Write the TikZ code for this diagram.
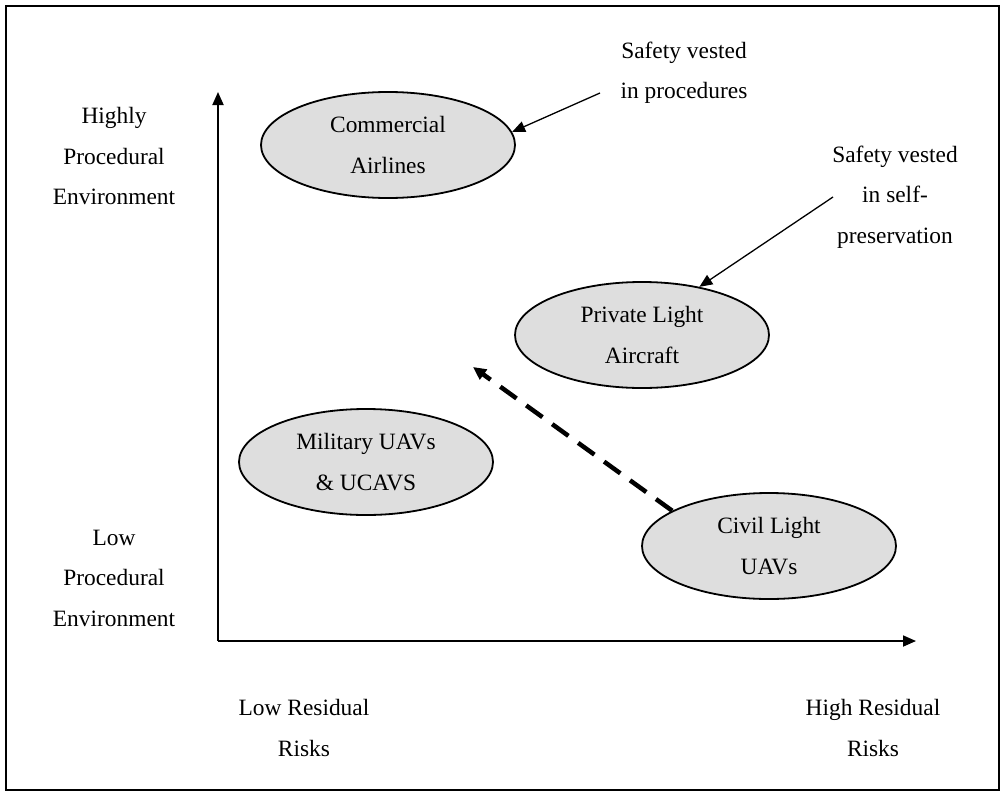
\documentclass[tikz,border=0pt]{standalone}
\usepackage{fontspec}
\setmainfont{Liberation Serif}
\usetikzlibrary{shapes.geometric,arrows.meta}
\begin{document}
\begin{tikzpicture}[x=1pt,y=-1pt,
  every node/.style={font=\fontsize{23.4}{40.5}\selectfont},
  label text/.style={align=center,inner sep=0pt},
  group/.style={ellipse,draw,line width=1.8pt,fill=black!13,
    minimum width=254pt,minimum height=106pt,inner sep=0pt,align=center},
  axis/.style={line width=1.8pt,-{Triangle[length=13pt,width=11pt]}},
  pointer/.style={line width=1.3pt,-{Triangle[length=13pt,width=11pt]}},
  trend/.style={line width=4.5pt,dash pattern=on 20pt off 12pt,
    -{Triangle[length=13pt,width=12pt]}}]
  \useasboundingbox (0,0) rectangle (1003,792);
  % outer frame
  \draw[line width=2pt] (6,6) rectangle (999,790);

  % axes
  \coordinate (origin) at (218,641);
  \coordinate (ytip) at (218,92);
  \coordinate (xtip) at (916,641);
  \draw[axis] (origin) -- (ytip);
  \draw[axis] (origin) -- (xtip);

  % axis labels
  \node[label text] (high) at (114,156) {Highly\\Procedural\\Environment};
  \node[label text] (low) at (114,578) {Low\\Procedural\\Environment};
  \node[label text] (lowrisk) at (304,728) {Low Residual\\Risks};
  \node[label text] (highrisk) at (873,728) {High Residual\\Risks};

  % operator groups
  \node[group] (comm) at (388,145) {Commercial\\Airlines};
  \node[group] (priv) at (642,335) {Private Light\\Aircraft};
  \node[group] (mil) at (366,462) {Military UAVs\\\& UCAVS};
  \node[group] (civil) at (769,546) {Civil Light\\UAVs};

  % annotations
  \node[label text] (proc) at (684,73) {Safety vested\\in procedures};
  \node[label text] (self) at (895,197) {Safety vested\\in self-\\preservation};
  \coordinate (procstart) at (600,93);
  \coordinate (selfstart) at (833,197);
  \draw[pointer] (procstart) -- (comm.6);
  \draw[pointer] (selfstart) -- (priv.40);

  % trend from civil UAVs
  \coordinate (trendtip) at (473,367);
  \draw[trend] (civil.160) -- (trendtip);
\end{tikzpicture}
\end{document}
